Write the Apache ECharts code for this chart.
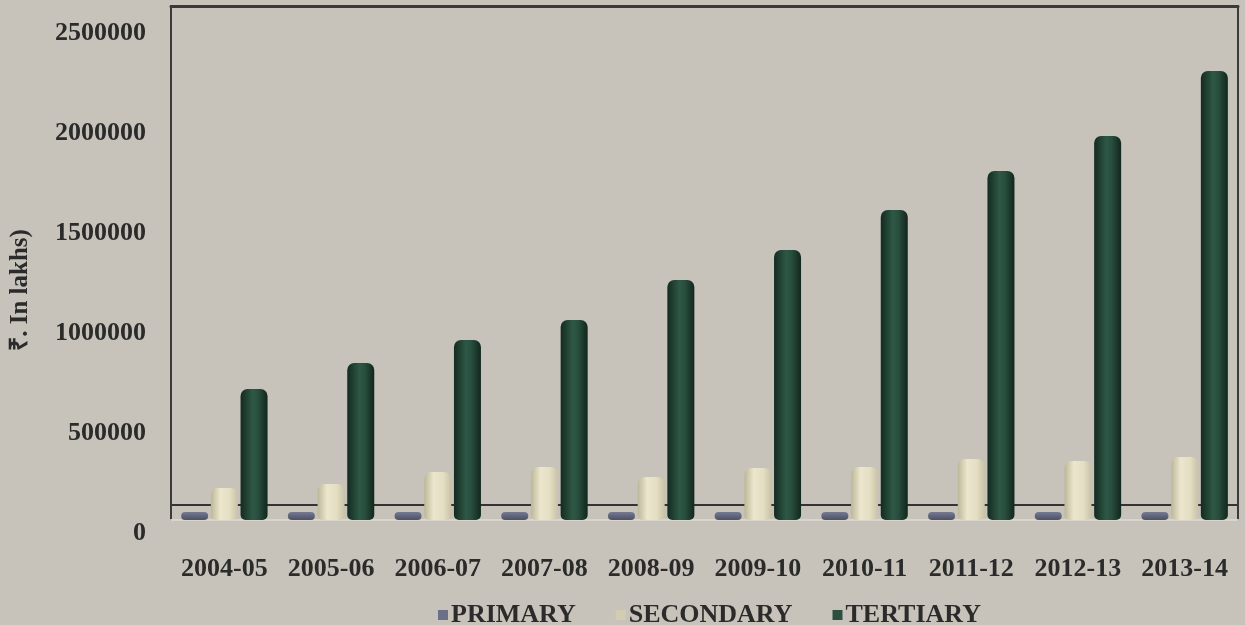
<!DOCTYPE html>
<html>
<head>
<meta charset="utf-8">
<script src="https://cdn.jsdelivr.net/npm/echarts@6/dist/echarts.min.js"></script>
<style>
  html, body { margin: 0; padding: 0; background: #c7c3ba; }
  #chart { width: 1245px; height: 625px; }
</style>
</head>
<body>
<div id="chart"></div>
<script>
// ---- data ----
var categories = ['2004-05', '2005-06', '2006-07', '2007-08', '2008-09', '2009-10', '2010-11', '2011-12', '2012-13', '2013-14'];
var primary   = [40000, 40000, 40000, 40000, 40000, 40000, 40000, 40000, 40000, 40000];
var secondary = [160000, 180000, 240000, 265000, 215000, 260000, 265000, 305000, 295000, 315000];
var tertiary  = [655000, 785000, 900000, 1000000, 1200000, 1350000, 1550000, 1745000, 1920000, 2245000];
var seriesNames = ['PRIMARY', 'SECONDARY', 'TERTIARY'];
var yTicks = { min: 0, interval: 500000, max: 2570000 };
var backWallBase = 75000;

var serif = 'Liberation Serif, Times New Roman, serif';
var textColor = '#2b2b2b';

function hGrad(stops) {
  return new echarts.graphic.LinearGradient(0, 0, 1, 0, stops.map(function (s) { return { offset: s[0], color: s[1] }; }));
}

var chart = echarts.init(document.getElementById('chart'), null, { renderer: 'canvas' });
chart.setOption({
  backgroundColor: '#c7c3ba',
  animation: false,
  grid: { left: 171, right: 7, top: 6, bottom: 105, containLabel: false },
  legend: {
    data: [
      { name: seriesNames[0], itemStyle: { color: '#6b7088' } },
      { name: seriesNames[1], itemStyle: { color: '#d2ccb0' } },
      { name: seriesNames[2], itemStyle: { color: '#2c5040' } }
    ],
    left: 433, top: 597,
    icon: 'rect', itemWidth: 10, itemHeight: 10, itemGap: 40,
    textStyle: { fontFamily: serif, fontWeight: 'bold', fontSize: 26, color: textColor, padding: [0, 0, 0, -2] }
  },
  xAxis: [{
    type: 'category',
    data: categories,
    axisLine: { show: true, lineStyle: { color: '#d9d5cc', width: 2 } },
    axisTick: { show: false },
    axisLabel: { margin: 36, fontFamily: serif, fontWeight: 'bold', fontSize: 26, color: textColor, interval: 0 }
  }, {
    type: 'category',
    position: 'top',
    data: categories,
    axisLine: { show: true, onZero: false, lineStyle: { color: '#3a3a3a', width: 3 } },
    axisTick: { show: false },
    axisLabel: { show: false }
  }],
  yAxis: [{
    type: 'value',
    min: yTicks.min, max: yTicks.max, interval: yTicks.interval,
    name: '₹. In lakhs)',
    nameLocation: 'middle',
    nameRotate: 90,
    nameGap: 138,
    nameTextStyle: { fontFamily: serif, fontWeight: 'bold', fontSize: 25, color: textColor, padding: [0, 54, 0, 0] },
    axisLine: { show: true, lineStyle: { color: '#3a3a3a', width: 2 } },
    axisTick: { show: false },
    splitLine: { show: false },
    axisLabel: {
      showMaxLabel: false, margin: 25, verticalAlign: 'top',
      formatter: function (v) { return String(v); },
      fontFamily: serif, fontWeight: 'bold', fontSize: 26, color: textColor
    }
  }, {
    type: 'value',
    position: 'right',
    min: yTicks.min, max: yTicks.max, interval: yTicks.interval,
    axisLine: { show: true, lineStyle: { color: '#3a3a3a', width: 2 } },
    axisTick: { show: false },
    splitLine: { show: false },
    axisLabel: { show: false }
  }],
  series: [{
    name: seriesNames[0],
    type: 'bar',
    z: 1,
    data: primary,
    barWidth: 27,
    barGap: '10%',
    itemStyle: {
      color: new echarts.graphic.LinearGradient(0, 0, 0, 1, [{ offset: 0, color: '#757a92' }, { offset: 1, color: '#4c5165' }]),
      borderRadius: 14
    },
    markLine: {
      z: 0,
      silent: true,
      symbol: ['none', 'none'],
      label: { show: false },
      lineStyle: { color: '#333333', width: 2, type: 'solid' },
      data: [{ yAxis: backWallBase }]
    }
  }, {
    name: seriesNames[1],
    type: 'bar',
    z: 6,
    data: secondary,
    barWidth: 27,
    barGap: '10%',
    itemStyle: {
      color: hGrad([[0, '#bdb799'], [0.35, '#ebe6cc'], [0.7, '#e4dec3'], [1, '#c8c2a6']]),
      borderRadius: [7, 7, 5, 5]
    }
  }, {
    name: seriesNames[2],
    type: 'bar',
    z: 6,
    data: tertiary,
    barWidth: 27,
    barGap: '10%',
    itemStyle: {
      color: hGrad([[0, '#142a20'], [0.45, '#2e5846'], [0.65, '#284e3e'], [1, '#12261c']]),
      borderRadius: [7, 7, 5, 5]
    }
  }]
});
</script>
</body>
</html>
